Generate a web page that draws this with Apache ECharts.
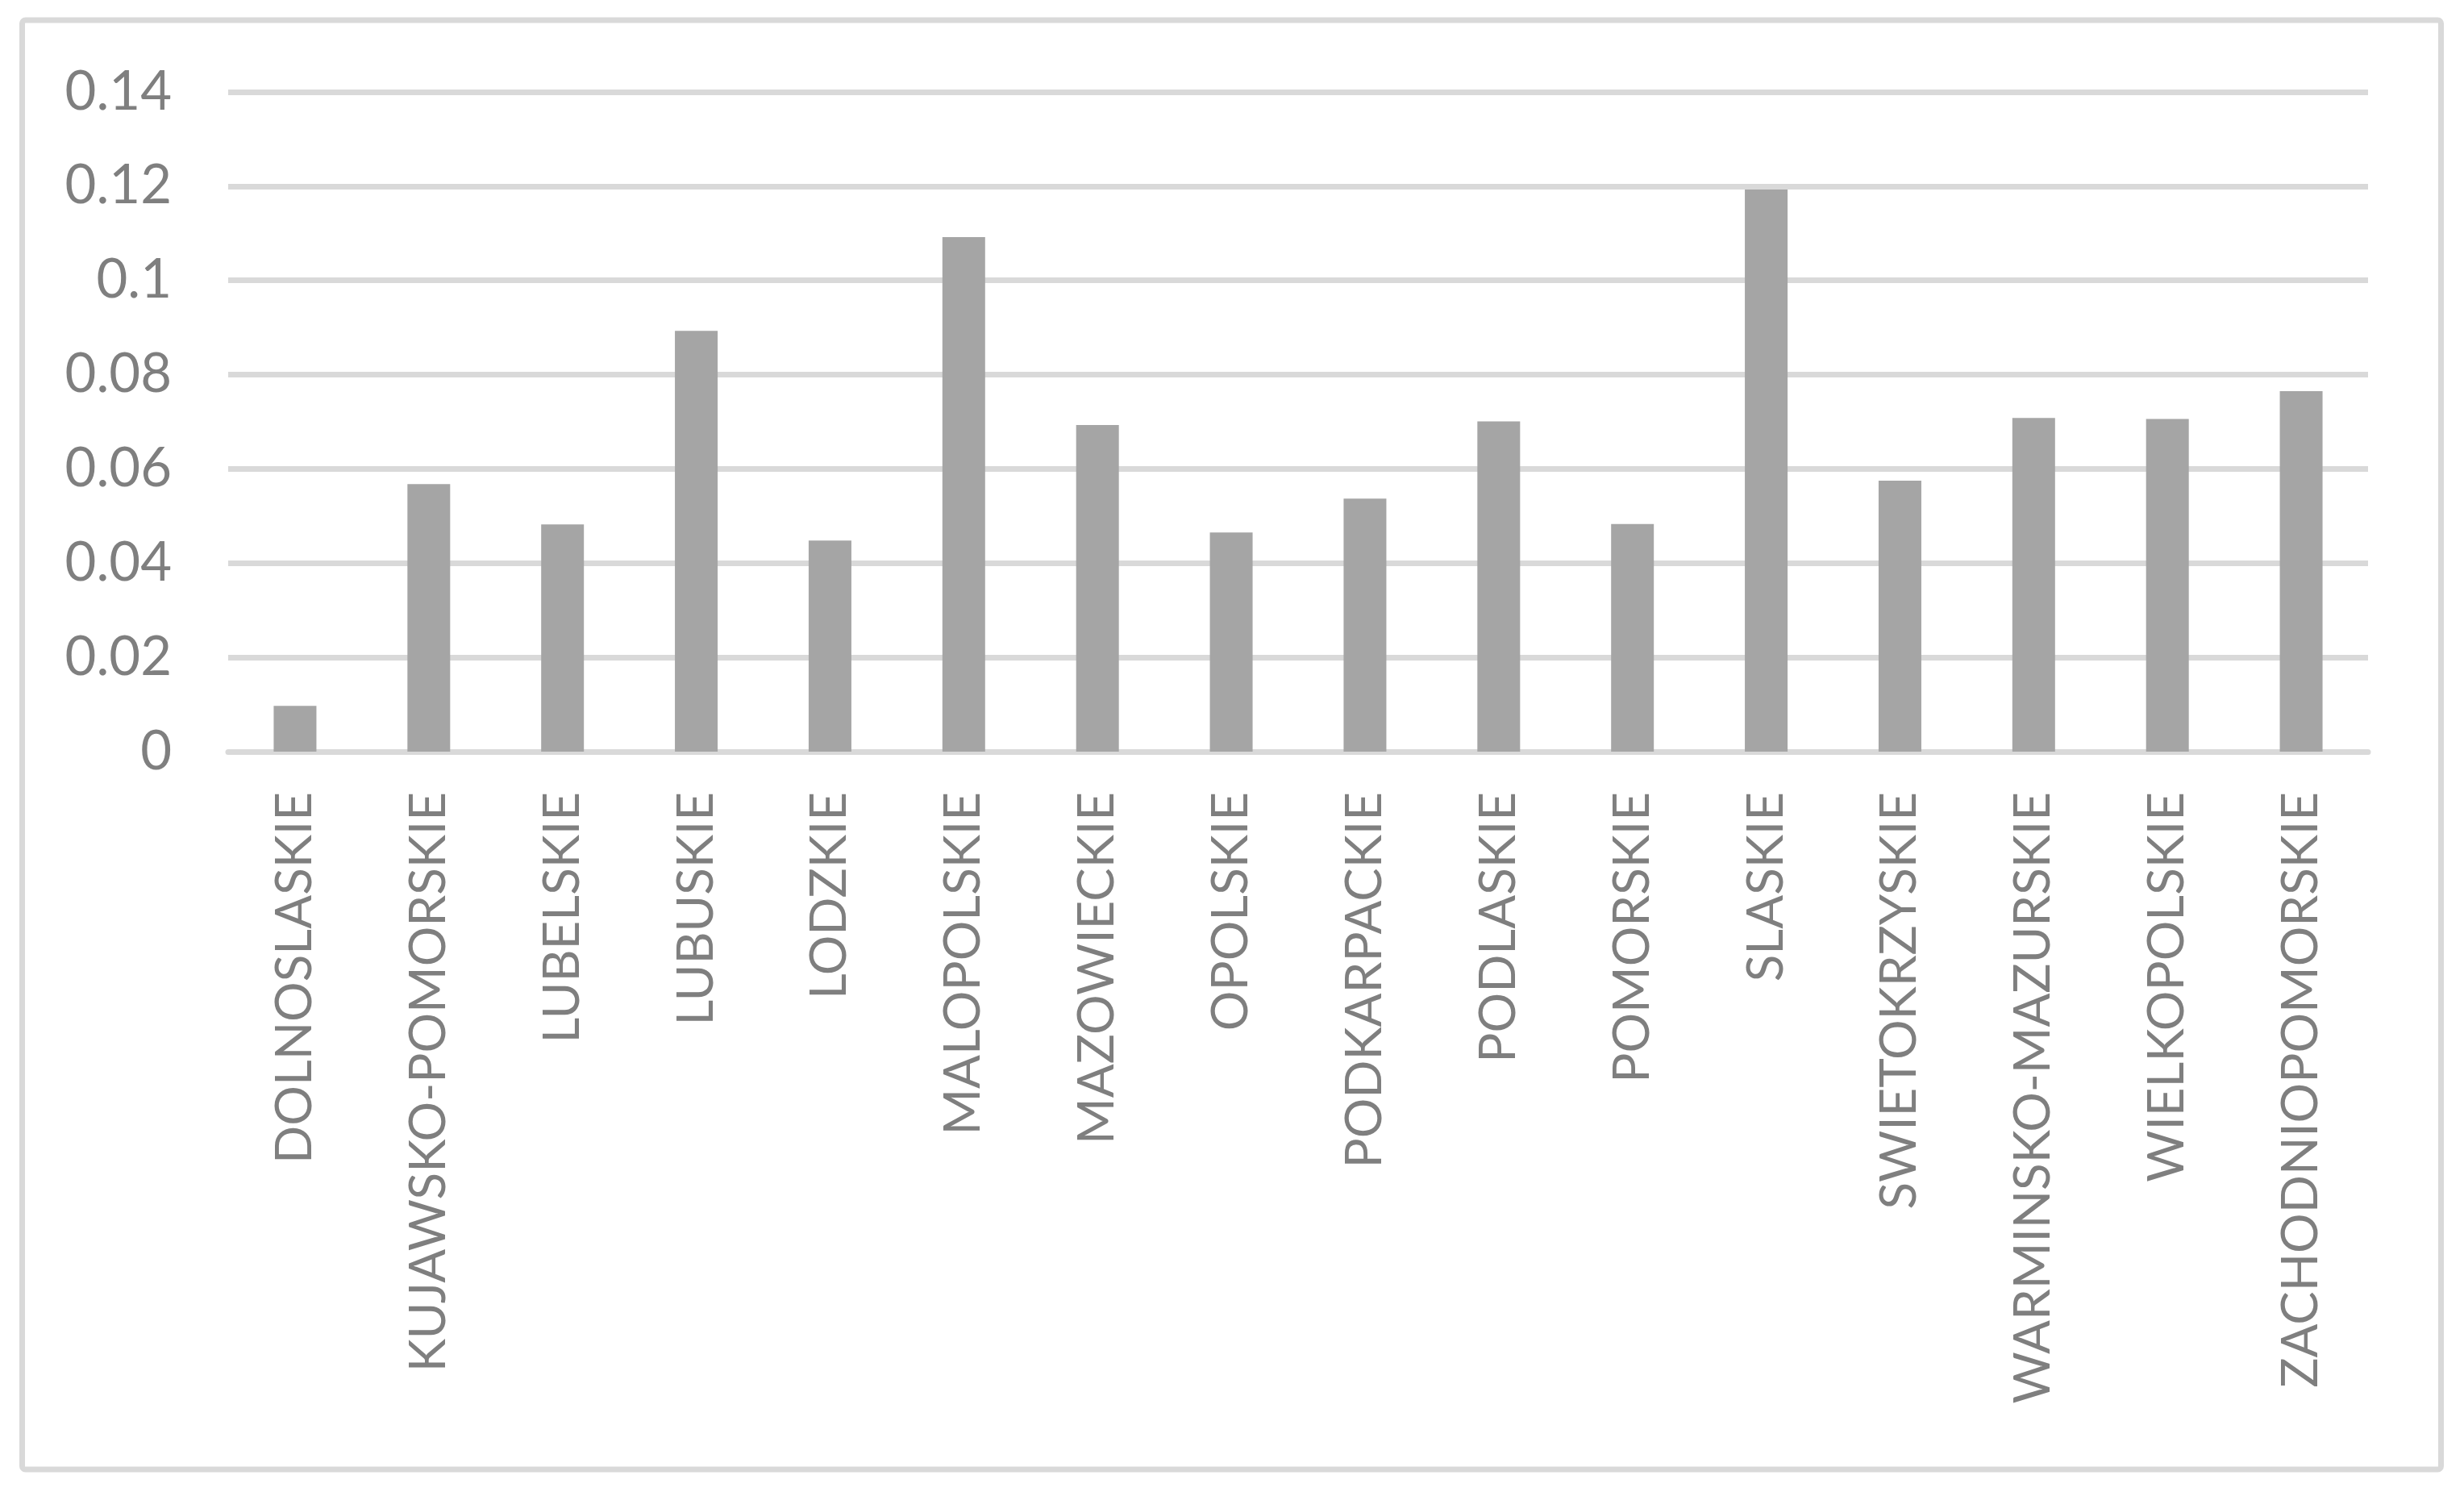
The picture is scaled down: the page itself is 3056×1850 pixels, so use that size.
<!DOCTYPE html>
<html>
<head>
<meta charset="utf-8">
<script src="https://cdn.jsdelivr.net/npm/echarts@6/dist/echarts.min.js"></script>
<style>
html,body{margin:0;padding:0;background:#fff;}
#chart{width:3056px;height:1850px;}
</style>
</head>
<body>
<div id="chart"></div>
<script>
const categories = ["DOLNOSLASKIE","KUJAWSKO-POMORSKIE","LUBELSKIE","LUBUSKIE","LODZKIE","MALOPOLSKIE","MAZOWIECKIE","OPOLSKIE","PODKARPACKIE","PODLASKIE","POMORSKIE","SLASKIE","SWIETOKRZYSKIE","WARMINSKO-MAZURSKIE","WIELKOPOLSKIE","ZACHODNIOPOMORSKIE"];
const values = [0.0097,0.0568,0.0482,0.0893,0.0448,0.1092,0.0693,0.0465,0.0537,0.0701,0.0483,0.1193,0.0575,0.0708,0.0706,0.0765];
const yMin = 0, yMax = 0.14, yStep = 0.02;

const chart = echarts.init(document.getElementById('chart'), null, {renderer:'canvas'});
const FONT = 'Lato';
chart.setOption({
  backgroundColor:'#ffffff',
  animation:false,
  graphic:[{
    type:'rect',
    shape:{x:27.5,y:25,width:3000,height:1797,r:4},
    style:{fill:'none',stroke:'#D9D9D9',lineWidth:7},
    z:-1
  }],
  grid:{left:283,right:119,top:114,bottom:918,containLabel:false},
  xAxis:{
    type:'category',
    data:categories,
    axisLine:{show:true,lineStyle:{color:'#D9D9D9',width:7}},
    axisTick:{show:false},
    axisLabel:{rotate:90,margin:50,color:'#7F7F7F',fontFamily:FONT,fontSize:62,interval:0}
  },
  yAxis:{
    type:'value',
    min:yMin,max:yMax,interval:yStep,
    axisLine:{show:false},
    axisTick:{show:false},
    splitLine:{lineStyle:{color:'#D9D9D9',width:7}},
    axisLabel:{margin:70,color:'#7F7F7F',fontFamily:FONT,fontSize:67}
  },
  series:[{
    type:'bar',
    data:values,
    barWidth:53,
    itemStyle:{color:'#A5A5A5'}
  }]
});
</script>
</body>
</html>
